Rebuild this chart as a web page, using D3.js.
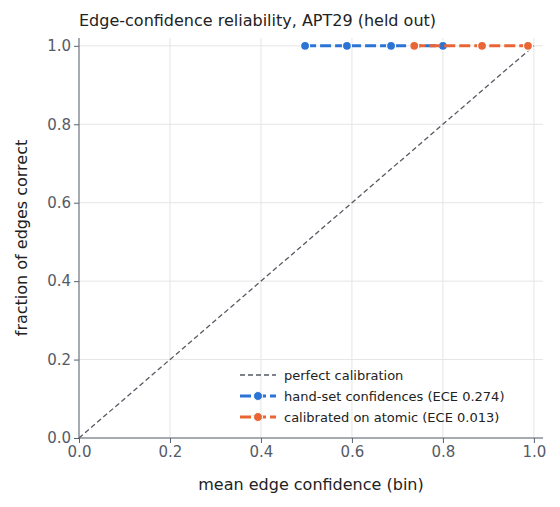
<!DOCTYPE html>
<html>
<head>
<meta charset="utf-8">
<script src="https://d3js.org/d3.v7.min.js"></script>
<style>
body{margin:0;background:#fff;font-family:"DejaVu Sans",sans-serif;}
</style>
</head>
<body>
<div id="chart"></div>
<script>
var handX = [0.497, 0.589, 0.686, 0.800];
var handY = [1.0, 1.0, 1.0, 1.0];
var calX = [0.737, 0.886, 0.987];
var calY = [1.0, 1.0, 1.0];
var ticks = [0, 0.2, 0.4, 0.6, 0.8, 1.0];

var w = 560, h = 507;
var pLeft = 79, pRight = 543, pTop = 38, pBottom = 438;
var x = d3.scaleLinear().domain([0, 1.02]).range([pLeft, pLeft + 464]);
var y = d3.scaleLinear().domain([0, 1.02]).range([pBottom, pTop]);

var svg = d3.select("#chart").append("svg").attr("width", w).attr("height", h);

// grid
svg.append("g").selectAll("line").data(ticks).enter().append("line")
  .attr("x1", function(d){return x(d);}).attr("x2", function(d){return x(d);})
  .attr("y1", pTop).attr("y2", pBottom).style("stroke", "#e5e5e5");
svg.append("g").selectAll("line").data(ticks).enter().append("line")
  .attr("y1", function(d){return y(d);}).attr("y2", function(d){return y(d);})
  .attr("x1", pLeft).attr("x2", pRight).style("stroke", "#e5e5e5");

var xa = svg.append("g").attr("transform", "translate(0," + pBottom + ")")
  .call(d3.axisBottom(x).tickValues(ticks).tickFormat(d3.format(".1f")).tickSize(5));
var ya = svg.append("g").attr("transform", "translate(" + pLeft + ",0)")
  .call(d3.axisLeft(y).tickValues(ticks).tickFormat(d3.format(".1f")).tickSize(5));
[xa, ya].forEach(function(a){
  a.select(".domain").style("stroke", "#5a6270");
  a.selectAll(".tick line").style("stroke", "#5a6270");
  a.selectAll("text").style("font-size", "15px").style("fill", "#555b66").style("font-family", "DejaVu Sans");
});
xa.select(".domain").attr("d", "M" + pLeft + ",0H" + pRight);
ya.select(".domain").attr("d", "M0," + pBottom + "V" + pTop);

// diagonal
svg.append("line").attr("x1", x(0)).attr("y1", y(0)).attr("x2", x(1)).attr("y2", y(1))
  .style("stroke", "#555a63").style("stroke-width", 1.3).style("stroke-dasharray", "5,3");

function series(xs, ys, col) {
  var pts = xs.map(function(d, i){return [d, ys[i]];});
  svg.append("path").datum(pts)
    .attr("d", d3.line().x(function(d){return x(d[0]);}).y(function(d){return y(d[1]);}))
    .style("fill", "none").style("stroke", col).style("stroke-width", 3).style("stroke-dasharray", "11,4");
  svg.append("g").selectAll("circle").data(pts).enter().append("circle")
    .attr("cx", function(d){return x(d[0]);}).attr("cy", function(d){return y(d[1]);})
    .attr("r", 4.5).style("fill", col).style("stroke", "#fff").style("stroke-width", 1.2);
}
series(handX, handY, "#2b74d6");
series(calX, calY, "#ea6535");

// legend
var legend = [
  {t: "perfect calibration", c: "#555a63", dash: "5,3", sw: 1.3, m: false},
  {t: "hand-set confidences (ECE 0.274)", c: "#2b74d6", dash: "11,4", sw: 3, m: true},
  {t: "calibrated on atomic (ECE 0.013)", c: "#ea6535", dash: "11,4", sw: 3, m: true}
];
var lg = svg.append("g").attr("transform", "translate(240,375)");
legend.forEach(function(d, i){
  var g = lg.append("g").attr("transform", "translate(0," + (i * 21) + ")");
  g.append("line").attr("x1", 0).attr("x2", 36).attr("y1", 0).attr("y2", 0)
    .style("stroke", d.c).style("stroke-width", d.sw).style("stroke-dasharray", d.dash);
  if (d.m) g.append("circle").attr("cx", 18).attr("cy", 0).attr("r", 4.5).style("fill", d.c).style("stroke", "#fff");
  g.append("text").attr("x", 44).attr("y", 4.5).text(d.t).style("font-size", "13px").style("fill", "#222");
});

svg.append("text").attr("x", 79).attr("y", 26).text("Edge-confidence reliability, APT29 (held out)")
  .style("font-size", "16px").style("fill", "#222");
svg.append("text").attr("x", (pLeft + pRight) / 2).attr("y", 490).attr("text-anchor", "middle")
  .text("mean edge confidence (bin)").style("font-size", "16px").style("fill", "#222");
svg.append("text").attr("transform", "translate(27," + ((pTop + pBottom) / 2) + ") rotate(-90)")
  .attr("text-anchor", "middle").text("fraction of edges correct").style("font-size", "16px").style("fill", "#222");
</script>
</body>
</html>
